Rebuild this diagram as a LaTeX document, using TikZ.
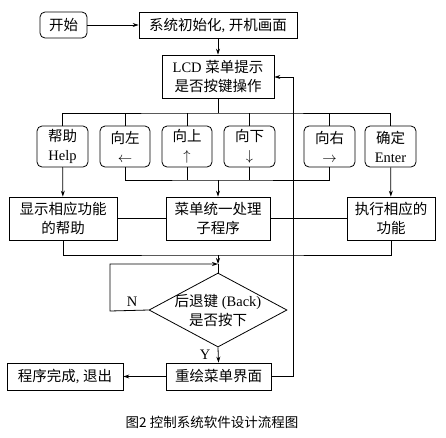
\documentclass[tikz,border=0pt]{standalone}
\usepackage{fontspec}
\setmainfont{Liberation Serif}
\newfontfamily\cjk{Noto Sans CJK SC}
\usetikzlibrary{shapes.geometric,arrows.meta}
\begin{document}
\begin{tikzpicture}[x=1pt,y=-1pt,
  every node/.style={font=\fontsize{14.5}{19}\selectfont},
  box/.style={draw,line width=0.8pt,inner sep=0pt,align=center},
  rbox/.style={box,rounded corners=5pt},
  ln/.style={line width=0.8pt},
  arr/.style={ln,-{Stealth[length=6pt,width=4pt]}},
  lbl/.style={inner sep=0pt}]
\useasboundingbox (0,0) rectangle (446,437);
\fill[white] (0,0) rectangle (446,437);
% top row
\node[rbox,minimum width=47pt,minimum height=26pt] (start) at (63.5,25) {\cjk 开始};
\node[box,minimum width=158pt,minimum height=26pt] (init) at (218,25) {{\cjk 系统初始化}, {\cjk 开机画面}};
\node[box,minimum width=112pt,minimum height=43pt] (lcd) at (218,76.5) {LCD {\cjk 菜单提示}\\{\cjk 是否按键操作}};
% keys
\node[rbox,minimum width=51pt,minimum height=41pt] (help) at (62.5,146.5) {{\cjk 帮助}\\Help};
\node[rbox,minimum width=50pt,minimum height=41pt] (kleft) at (125,146.5) {{\cjk 向左}\\$\leftarrow$};
\node[rbox,minimum width=50pt,minimum height=41pt] (kup) at (187,146.5) {{\cjk 向上}\\$\uparrow$};
\node[rbox,minimum width=51pt,minimum height=41pt] (kdown) at (249.5,146.5) {{\cjk 向下}\\$\downarrow$};
\node[rbox,minimum width=51pt,minimum height=41pt] (kright) at (329.5,146.5) {{\cjk 向右}\\$\rightarrow$};
\node[rbox,minimum width=51pt,minimum height=41pt] (enter) at (390.5,146.5) {{\cjk 确定}\\Enter};
% third row
\node[box,minimum width=108pt,minimum height=43pt] (show) at (63,218.5) {{\cjk 显示相应功能}\\{\cjk 的帮助}};
\node[box,minimum width=104pt,minimum height=43pt] (menu) at (218,218.5) {{\cjk 菜单统一处理}\\{\cjk 子程序}};
\node[box,minimum width=88pt,minimum height=43pt] (exec) at (391,218.5) {{\cjk 执行相应的}\\{\cjk 功能}};
% decision
\node[diamond,draw,line width=0.8pt,inner sep=0pt,minimum width=138pt,minimum height=74pt] (dia) at (218,310) {};
\node[lbl,align=center] (diatext) at (dia.center) {{\cjk 后退键} (Back)\\{\cjk 是否按下}};
% bottom row
\node[box,minimum width=105pt,minimum height=27pt] (redraw) at (218.5,376.5) {\cjk 重绘菜单界面};
\node[box,minimum width=116pt,minimum height=27pt] (done) at (65,376.5) {{\cjk 程序完成}, {\cjk 退出}};
% caption
\node[lbl,font={\cjk\fontsize{13.5}{16}\selectfont}] (cap) at (212,422) {图2 控制系统软件设计流程图};
% coordinates
\coordinate (bus) at (218,113);
\coordinate (bus2) at (218,180);
\coordinate (bus3) at (218,255);
\coordinate (j) at (218,264);
\coordinate (nl) at (110,311);
\coordinate (nt) at (110,264);
\coordinate (rr) at (293,376.5);
\coordinate (rt) at (293,77);
% connectors
\draw[arr] (start) -- (init);
\draw[arr] (init) -- (lcd);
\draw[ln] (lcd.south) -- (bus);
\draw[ln] (help.north) |- (bus) -| (enter.north);
\draw[ln] (kleft.north) -- (kleft.north |- bus);
\draw[ln] (kup.north) -- (kup.north |- bus);
\draw[ln] (kdown.north) -- (kdown.north |- bus);
\draw[ln] (kright.north) -- (kright.north |- bus);
\draw[ln] (kleft.south) |- (bus2) -| (kright.south);
\draw[ln] (kup.south) -- (kup.south |- bus2);
\draw[ln] (kdown.south) -- (kdown.south |- bus2);
\draw[arr] (bus2) -- (menu.north);
\draw[arr] (help) -- (show);
\draw[arr] (enter) -- (exec);
\draw[ln] (show) -- (menu);
\draw[ln] (menu) -- (exec);
\draw[ln] (show.south) |- (bus3) -| (exec.south);
\draw[arr] (bus3) -- (j);
\draw[ln] (j) -- (dia.north);
\draw[arr] (dia.west) -- (nl) -- (nt) -- (j);
\draw[arr] (dia.south) -- (redraw.north);
\draw[arr] (redraw) -- (done);
\draw[arr] (redraw.east) -- (rr) -- (rt) -- (lcd.east |- rt);
\node[lbl] (nlab) at (132,302) {N};
\node[lbl] (ylab) at (205,355) {Y};
\end{tikzpicture}
\end{document}
